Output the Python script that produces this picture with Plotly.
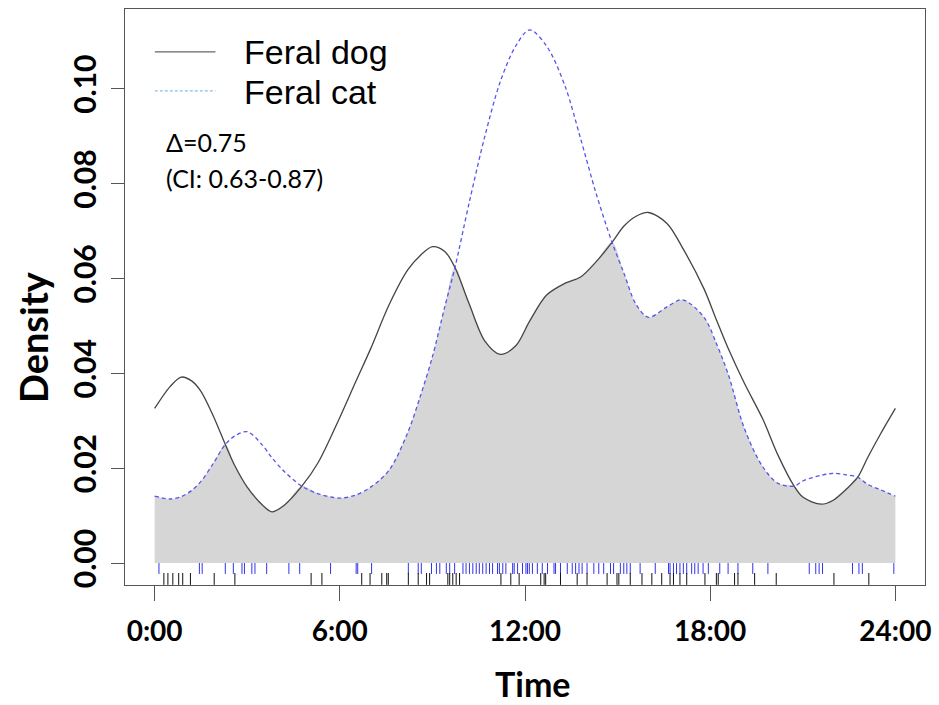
import numpy as np
import plotly.graph_objects as go

# ---- data ----
hours = [0, 0.5, 0.86, 1.2, 1.5, 1.9, 2.29, 2.6, 3.0, 3.5, 3.8, 4.2, 4.77, 5.3, 6.0, 6.5,
         7.0, 7.6, 8.2, 8.6, 9.0, 9.4, 9.73, 10.2, 10.7, 11.2, 11.7, 12.15, 12.7, 13.3,
         13.8, 14.3, 14.82, 15.2, 15.6, 16.0, 16.6, 17.1, 17.8, 18.2, 18.6, 19.1, 19.7,
         20.2, 20.72, 21.0, 21.6, 22.0, 22.4, 22.78, 23.1, 23.5, 24]
dog_density = [0.0326, 0.0372, 0.0392, 0.0384, 0.0362, 0.0310, 0.0250, 0.0205, 0.0160,
               0.0122, 0.0108, 0.0122, 0.0162, 0.0212, 0.0307, 0.0380, 0.0452, 0.0545,
               0.0618, 0.0648, 0.0667, 0.0657, 0.0623, 0.0545, 0.0468, 0.0440, 0.0458,
               0.0510, 0.0565, 0.0590, 0.0603, 0.0635, 0.0676, 0.0710, 0.0731, 0.0739,
               0.0716, 0.0665, 0.0578, 0.0513, 0.0450, 0.0380, 0.0304, 0.0227, 0.0162,
               0.0139, 0.0124, 0.0133, 0.0155, 0.0181, 0.0222, 0.0270, 0.0326]
cat_density = [0.0141, 0.0135, 0.0140, 0.0153, 0.0172, 0.0210, 0.0250, 0.0268, 0.0277,
               0.0248, 0.0222, 0.0193, 0.0162, 0.0146, 0.0137, 0.0143, 0.0160, 0.0196,
               0.0275, 0.0350, 0.0435, 0.0540, 0.0623, 0.0762, 0.0900, 0.1015, 0.1090,
               0.1124, 0.1090, 0.1005, 0.0895, 0.0780, 0.0676, 0.0612, 0.0545, 0.0518,
               0.0540, 0.0555, 0.0518, 0.0463, 0.0395, 0.0285, 0.0203, 0.0168, 0.0162,
               0.0173, 0.0185, 0.0189, 0.0186, 0.0181, 0.0166, 0.0155, 0.0141]

cat_times = [0.14, 1.45, 1.54, 2.29, 2.55, 2.83, 2.91, 3.15, 3.25, 3.63, 4.35, 4.70, 5.70,
             6.53, 6.58, 7.03, 8.22, 8.54, 8.64, 8.97, 9.13, 9.24, 9.45, 9.56, 9.72, 9.99,
             10.09, 10.20, 10.31, 10.42, 10.52, 10.63, 10.74, 10.85, 10.95, 11.11, 11.17,
             11.28, 11.38, 11.60, 11.65, 11.76, 11.92, 12.03, 12.08, 12.14, 12.24, 12.40,
             12.56, 12.73, 12.94, 12.99, 13.15, 13.37, 13.53, 13.64, 13.75, 13.85, 14.01,
             14.23, 14.39, 14.55, 14.77, 14.87, 15.09, 15.20, 15.30, 15.41, 15.73, 16.22,
             16.65, 16.70, 16.81, 16.91, 17.02, 17.13, 17.24, 17.40, 17.50, 17.61, 17.77,
             17.94, 18.31, 18.58, 18.90, 19.38, 19.87, 21.21, 21.42, 21.53, 21.64, 22.61,
             22.82, 22.93, 23.95]
dog_times = [0.30, 0.43, 0.59, 0.78, 0.91, 1.16, 1.93, 2.60, 5.07, 5.42, 6.71, 6.98, 7.36,
             7.52, 7.57, 8.22, 8.54, 8.81, 8.91, 9.50, 9.56, 9.66, 9.77, 9.88, 11.22, 11.54,
             11.81, 12.51, 12.62, 12.67, 13.15, 13.69, 14.01, 14.66, 14.98, 15.04, 15.41,
             15.79, 16.11, 16.43, 16.70, 16.81, 17.02, 17.24, 17.83, 18.20, 18.26, 18.79,
             18.90, 19.44, 20.14, 22.01, 23.14]

tick_vals = [0, 6, 12, 18, 24]
tick_text = ["0:00", "6:00", "12:00", "18:00", "24:00"]
ytick_vals = [0, 0.02, 0.04, 0.06, 0.08, 0.10]
ytick_text = ["0.00", "0.02", "0.04", "0.06", "0.08", "0.10"]
series_names = ["Feral dog", "Feral cat"]
delta_text = ["\u0394=0.75", "(CI: 0.63-0.87)"]

DOG_COLOR = "#444444"
CAT_COLOR = "rgb(85,85,235)"
RUG_BLUE = "rgb(50,50,235)"
SM = 0.9

overlap = np.minimum(np.array(dog_density), np.array(cat_density))

def rug(times, y0, y1):
    xs, ys = [], []
    for t in times:
        xs += [t, t, None]
        ys += [y0, y1, None]
    return xs, ys

fig = go.Figure()
fig.add_trace(go.Scatter(x=hours, y=overlap, mode="lines", fill="tozeroy",
                         fillcolor="#d6d6d6", line=dict(width=0, shape="spline", smoothing=SM),
                         showlegend=False, hoverinfo="skip"))
fig.add_trace(go.Scatter(x=hours, y=dog_density, mode="lines", name=series_names[0],
                         line=dict(color=DOG_COLOR, width=1.3, shape="spline", smoothing=SM),
                         showlegend=False))
fig.add_trace(go.Scatter(x=hours, y=cat_density, mode="lines", name=series_names[1],
                         line=dict(color=CAT_COLOR, width=1.3, dash="4px,3px", shape="spline", smoothing=SM),
                         showlegend=False))
bx, by = rug(cat_times, 0.0, -0.0023)
fig.add_trace(go.Scatter(x=bx, y=by, mode="lines", line=dict(color=RUG_BLUE, width=1),
                         showlegend=False, hoverinfo="skip"))
kx, ky = rug(dog_times, -0.0021, -0.0046)
fig.add_trace(go.Scatter(x=kx, y=ky, mode="lines", line=dict(color="#111111", width=1),
                         showlegend=False, hoverinfo="skip"))

W, H = 939, 705
L, R, T, B = 125, 9, 8, 120
pw, ph = W - L - R, H - T - B

def px(xp):
    return (xp - L) / pw

def py(yp):
    return 1 - (yp - T) / ph

# manual legend
fig.add_shape(type="line", xref="paper", yref="paper", x0=px(155), x1=px(216), y0=py(51), y1=py(51),
              line=dict(color="#666666", width=1.3))
fig.add_shape(type="line", xref="paper", yref="paper", x0=px(155), x1=px(216), y0=py(90), y1=py(90),
              line=dict(color="rgb(140,190,230)", width=1.3, dash="3px,2px"))
for name, yp in zip(series_names, [51, 91]):
    fig.add_annotation(text=name, xref="paper", yref="paper", x=px(243), y=py(yp),
                       xanchor="left", yanchor="middle", showarrow=False,
                       font=dict(family="Liberation Sans, Arial", size=34, color="black"))
for txt, yp in zip(delta_text, [141, 177]):
    fig.add_annotation(text=txt, xref="paper", yref="paper", x=px(164), y=py(yp),
                       xanchor="left", yanchor="middle", showarrow=False,
                       font=dict(family="Lato", size=25, color="black"))

# axis titles
fig.add_annotation(text="<b>Time</b>", xref="paper", yref="paper", x=px(536), y=py(684),
                   xanchor="center", yanchor="middle", showarrow=False,
                   font=dict(family="Lato", size=34, color="black"))
fig.add_annotation(text="<b>Density</b>", xref="paper", yref="paper", x=px(33), y=py(337),
                   xanchor="center", yanchor="middle", showarrow=False, textangle=-90,
                   font=dict(family="Lato", size=38, color="black"))

fig.update_layout(
    width=W, height=H,
    margin=dict(l=L, r=R, t=T, b=B),
    plot_bgcolor="white", paper_bgcolor="white",
    showlegend=False,
)
fig.update_xaxes(range=[-0.96, 24.96], tickvals=tick_vals, ticktext=tick_text,
                 showgrid=False, zeroline=False, showline=True, mirror=True,
                 linecolor="#555555", linewidth=1, ticks="outside", ticklen=15,
                 tickcolor="#555555", ticklabelstandoff=6,
                 tickfont=dict(family="Lato", size=28, color="black", weight="bold"))
fig.update_yaxes(range=[-0.00463, 0.1168], tickvals=ytick_vals, ticktext=ytick_text,
                 tickangle=-90,
                 showgrid=False, zeroline=False, showline=True, mirror=True,
                 linecolor="#555555", linewidth=1, ticks="outside", ticklen=13,
                 tickcolor="#555555", ticklabelstandoff=3,
                 tickfont=dict(family="Lato", size=30, color="black", weight="bold"))

fig.write_html("out.html")
